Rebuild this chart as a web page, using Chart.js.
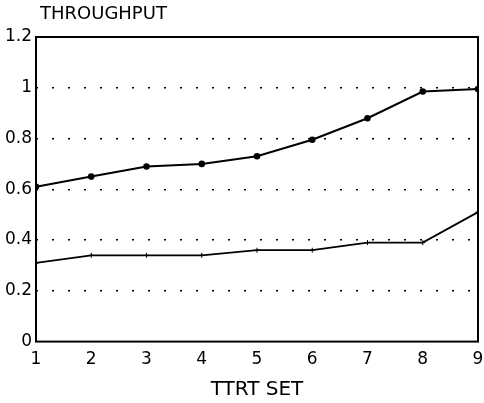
<!DOCTYPE html>
<html>
<head>
<meta charset="utf-8">
<script src="https://cdn.jsdelivr.net/npm/chart.js@4/dist/chart.umd.min.js"></script>
<style>
    html, body { margin: 0; padding: 0; background: #fff; }
    #GraficoThroughput { display: block; }
</style>
</head>
<body>
<canvas id="GraficoThroughput" width="484" height="403"></canvas>
<script>
/* dados do grafico */
var ttrtSet = [1, 2, 3, 4, 5, 6, 7, 8, 9];
var serieSuperior = [0.61, 0.65, 0.69, 0.70, 0.73, 0.795, 0.88, 0.985, 0.995];
var serieInferior = [0.31, 0.34, 0.34, 0.34, 0.36, 0.36, 0.39, 0.39, 0.51];
var ticksY = [0, 0.2, 0.4, 0.6, 0.8, 1, 1.2];
var tituloY = 'THROUGHPUT';
var tituloX = 'TTRT SET';

function MontarPontos(valores) {
    return ttrtSet.map(function (x, i) { return { x: x, y: valores[i] }; });
}

var fonte = "'DejaVu Sans', Verdana, sans-serif";

/* moldura em volta da area e titulo do eixo y em cima */
var moldura = {
    id: 'moldura',
    afterDraw: function (chart) {
        var a = chart.chartArea;
        var ctx = chart.ctx;
        ctx.save();
        ctx.strokeStyle = '#000';
        ctx.lineWidth = 2;
        ctx.strokeRect(a.left, a.top, a.right - a.left, a.bottom - a.top);

        ctx.fillStyle = '#000';
        ctx.font = '18px ' + fonte;
        ctx.textAlign = 'left';
        ctx.textBaseline = 'middle';
        ctx.fillText(tituloY, a.left + 4, 14);
        ctx.restore();
    }
};

var ctx = document.getElementById('GraficoThroughput').getContext('2d');
var grafico = new Chart(ctx, {
    type: 'line',
    data: {
        datasets: [{
            label: 'superior',
            data: MontarPontos(serieSuperior),
            borderColor: '#000',
            backgroundColor: '#000',
            borderWidth: 2,
            pointRadius: 2.3,
            pointStyle: 'circle',
            tension: 0
        }, {
            label: 'inferior',
            data: MontarPontos(serieInferior),
            borderColor: '#000',
            backgroundColor: '#000',
            borderWidth: 1.8,
            pointRadius: 2.5,
            pointBorderWidth: 1,
            pointStyle: 'cross',
            tension: 0
        }]
    },
    options: {
        responsive: false,
        animation: false,
        layout: { padding: { top: 37, right: 0, bottom: 0, left: 0 } },
        plugins: {
            legend: { display: false },
            tooltip: { enabled: false },
            title: { display: false }
        },
        scales: {
            x: {
                type: 'linear',
                min: 1,
                max: 9,
                grid: { display: false, drawTicks: false },
                border: { display: false },
                afterFit: function (scale) {
                    scale.paddingRight = 3;
                },
                ticks: {
                    stepSize: 1,
                    color: '#000',
                    padding: 8,
                    maxRotation: 0,
                    font: { family: fonte, size: 17, weight: 'normal' }
                },
                title: {
                    display: true,
                    text: tituloX,
                    color: '#000',
                    font: { family: fonte, size: 20, weight: 'normal' },
                    padding: { top: 0, bottom: 1 }
                }
            },
            y: {
                min: 0,
                max: 1.2,
                afterBuildTicks: function (scale) {
                    scale.ticks = ticksY.map(function (v) { return { value: v }; });
                },
                afterFit: function (scale) { scale.width = 36; },
                grid: {
                    drawTicks: false,
                    color: function (c) {
                        var v = c.tick ? c.tick.value : 0;
                        return (v <= 0.001 || v >= 1.199) ? 'rgba(0,0,0,0)' : '#000';
                    },
                    lineWidth: 1.4
                },
                border: { display: false, dash: [2, 14] },
                ticks: {
                    color: '#000',
                    padding: 4,
                    font: { family: fonte, size: 17, weight: 'normal' },
                    callback: function (v) { return String(Math.round(v * 10) / 10); }
                }
            }
        }
    },
    plugins: [moldura]
});
</script>
</body>
</html>
